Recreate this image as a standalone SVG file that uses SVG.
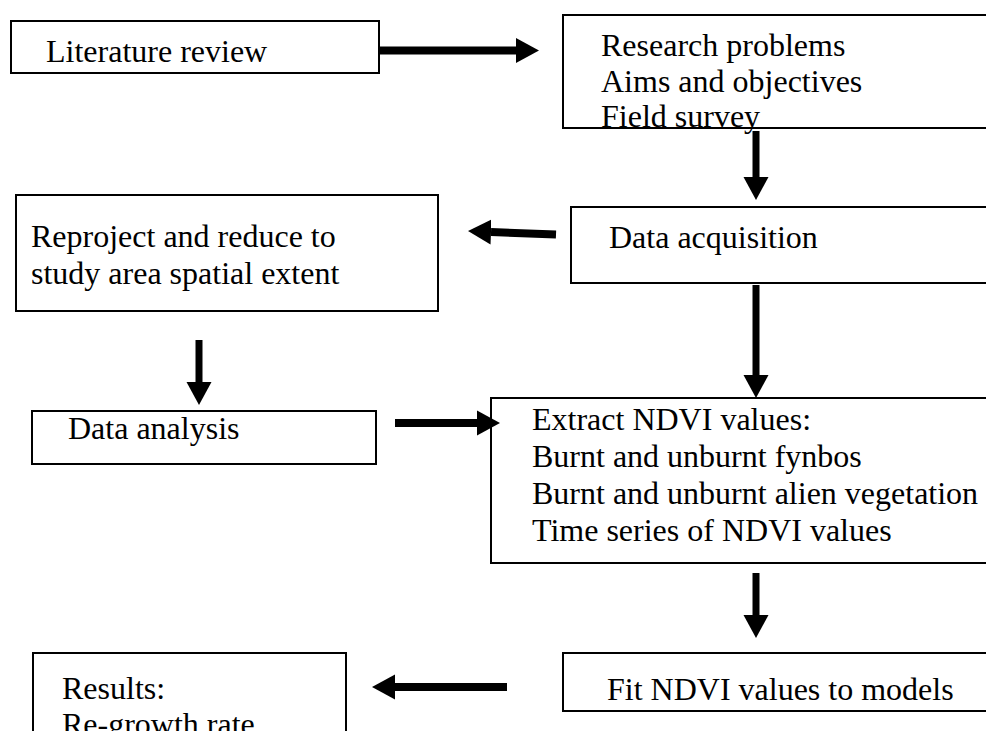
<svg xmlns="http://www.w3.org/2000/svg" width="986" height="731" viewBox="0 0 986 731">
<style>
.box{fill:#fff;stroke:#000;stroke-width:2}
.t{font-family:"Liberation Serif","Times New Roman",serif;font-size:32px;fill:#000}
.arr{stroke:#000;stroke-width:8;fill:none;marker-end:url(#ah)}
</style>
<defs>
<marker id="ah" markerUnits="userSpaceOnUse" markerWidth="24" markerHeight="26" refX="0" refY="12.5" orient="auto" viewBox="0 0 24 25">
<path d="M0,0 L23,12.5 L0,25 Z" fill="#000"/>
</marker>
</defs>
<rect width="986" height="731" fill="#fff"/>
<g id="lit">
<rect class="box" x="11" y="21" width="368" height="52"/>
<text class="t" x="46" y="62">Literature review</text>
</g>
<g id="research">
<rect class="box" x="563" y="15" width="440" height="113"/>
<text class="t" x="601" y="56">Research problems</text>
<text class="t" x="601" y="92">Aims and objectives</text>
<text class="t" x="601" y="127">Field survey</text>
</g>
<g id="reproject">
<rect class="box" x="16" y="195" width="422" height="116"/>
<text class="t" x="31" y="247">Reproject and reduce to</text>
<text class="t" x="31" y="284">study area spatial extent</text>
</g>
<g id="acq">
<rect class="box" x="571" y="207" width="430" height="76"/>
<text class="t" x="609" y="248">Data acquisition</text>
</g>
<g id="analysis">
<rect class="box" x="32" y="411" width="344" height="53"/>
<text class="t" x="68" y="439">Data analysis</text>
</g>
<g id="extract">
<rect class="box" x="491" y="398" width="510" height="165"/>
<text class="t" x="532" y="430">Extract NDVI values:</text>
<text class="t" x="532" y="467">Burnt and unburnt fynbos</text>
<text class="t" x="532" y="504">Burnt and unburnt alien vegetation</text>
<text class="t" x="532" y="541">Time series of NDVI values</text>
</g>
<g id="fit">
<rect class="box" x="563" y="653" width="440" height="58"/>
<text class="t" x="607" y="700">Fit NDVI values to models</text>
</g>
<g id="results">
<rect class="box" x="33" y="653" width="313" height="100"/>
<text class="t" x="62" y="699">Results:</text>
<text class="t" x="62" y="735">Re-growth rate</text>
</g>
<g id="connectors">
<line class="arr" x1="379" y1="50.5" x2="516" y2="50.5"/>
<line class="arr" x1="756" y1="131" x2="756" y2="177" style="stroke-width:7"/>
<line class="arr" x1="556" y1="234.5" x2="491" y2="232"/>
<line class="arr" x1="199" y1="340" x2="199" y2="382" style="stroke-width:7"/>
<line class="arr" x1="395" y1="423" x2="477" y2="423"/>
<line class="arr" x1="756" y1="285" x2="756" y2="375" style="stroke-width:7"/>
<line class="arr" x1="756" y1="573" x2="756" y2="615" style="stroke-width:7"/>
<line class="arr" x1="507" y1="687" x2="395" y2="687"/>
</g>
</svg>
